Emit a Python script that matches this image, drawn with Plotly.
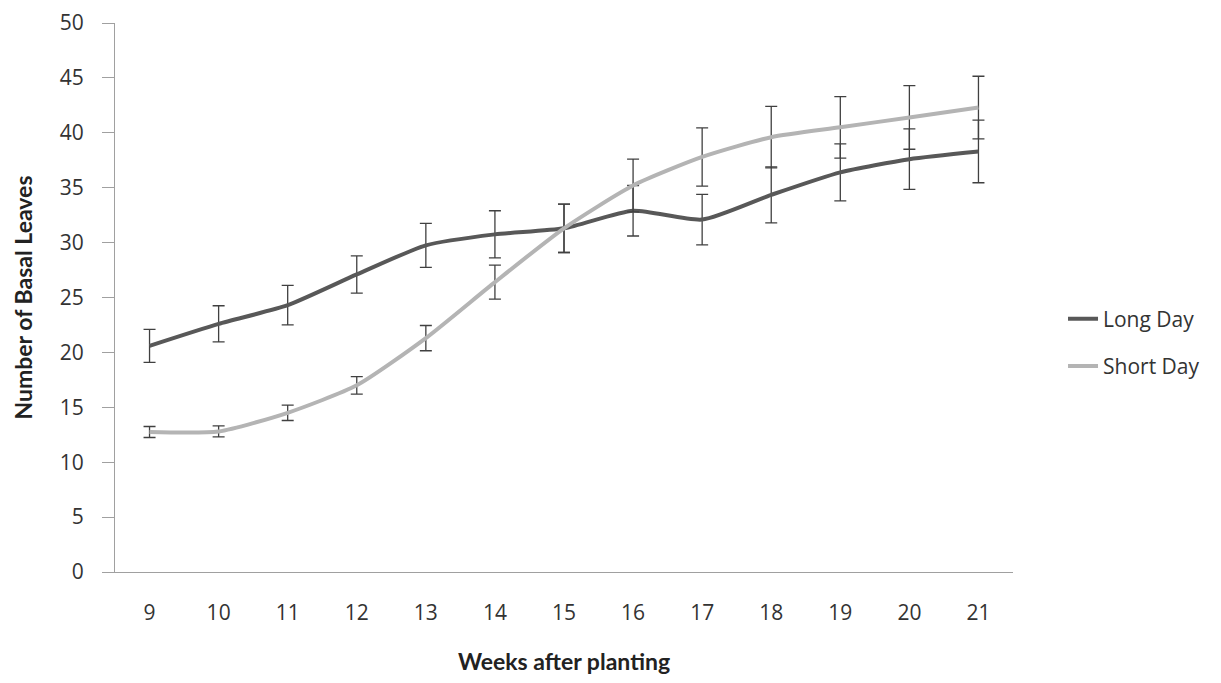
import plotly.graph_objects as go

weeks = [9, 10, 11, 12, 13, 14, 15, 16, 17, 18, 19, 20, 21]
long_day = [20.6, 22.6, 24.3, 27.1, 29.75, 30.75, 31.3, 32.9, 32.1, 34.35, 36.4, 37.6, 38.3]
long_day_err = [1.5, 1.65, 1.8, 1.7, 2.0, 2.15, 2.2, 2.3, 2.3, 2.55, 2.6, 2.75, 2.85]
short_day = [12.75, 12.8, 14.5, 17.0, 21.3, 26.4, 31.3, 35.2, 37.8, 39.6, 40.5, 41.4, 42.3]
short_day_err = [0.5, 0.5, 0.7, 0.8, 1.15, 1.55, 2.2, 2.4, 2.65, 2.8, 2.8, 2.9, 2.85]

fig = go.Figure()
err_style = dict(type="data", color="#404040", thickness=1.3, width=6)
fig.add_trace(go.Scatter(
    x=weeks, y=long_day, name="Long Day", mode="lines", legendgroup="a",
    line=dict(color="#585858", width=4, shape="spline", smoothing=0.6),
    error_y=dict(array=long_day_err, **err_style),
))
fig.add_trace(go.Scatter(
    x=weeks, y=short_day, name="Short Day", mode="lines", legendgroup="b",
    line=dict(color="#b4b4b4", width=4, shape="spline", smoothing=0.6),
    error_y=dict(array=short_day_err, **err_style),
))

fig.update_layout(
    width=1221, height=683,
    margin=dict(l=107, r=216, t=15, b=119, autoexpand=False),
    paper_bgcolor="white", plot_bgcolor="white",
    font=dict(family="Open Sans", color="#333333"),
    legend=dict(x=1.0557, y=0.418, xanchor="left", yanchor="middle",
                font=dict(size=21, family="Open Sans", color="#333333"),
                tracegroupgap=17, bgcolor="rgba(0,0,0,0)"),
    xaxis=dict(
        range=[8.5, 21.5], tickmode="array", tickvals=weeks,
        ticktext=[str(w) for w in weeks], automargin=False,
        showgrid=False, zeroline=False, showline=True, linecolor="#a0a0a0",
        linewidth=1, ticks="", ticklabelstandoff=22, ticklabeloverflow="allow",
        tickfont=dict(size=21, family="Open Sans", color="#333333"),
        title=dict(text="<b>Weeks after planting</b>", standoff=28,
                   font=dict(size=23, family="Lato", color="#222222")),
    ),
    yaxis=dict(
        range=[0, 50], tickmode="linear", tick0=0, dtick=5, automargin=False,
        showgrid=False, zeroline=False, showline=True, linecolor="#a0a0a0",
        linewidth=1, ticks="outside", ticklen=12, tickcolor="#a0a0a0",
        ticklabelstandoff=14, ticklabeloverflow="allow",
        tickfont=dict(size=21, family="Open Sans", color="#333333"),
        title=dict(text="<b>Number of Basal Leaves</b>", standoff=20,
                   font=dict(size=23, family="Lato", color="#222222")),
    ),
)

fig.write_html("out.html")
